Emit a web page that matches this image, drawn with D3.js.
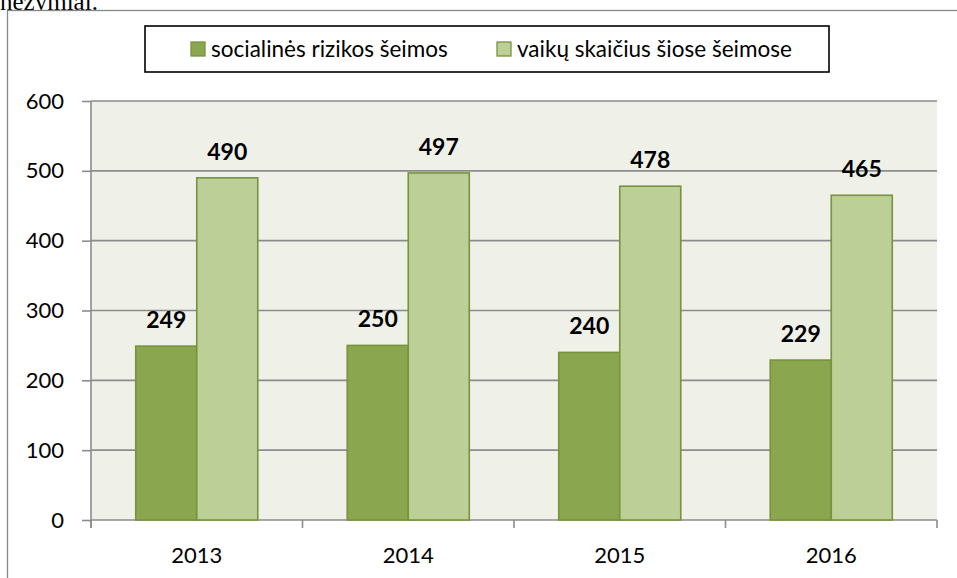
<!DOCTYPE html>
<html>
<head>
<meta charset="utf-8">
<script src="https://cdn.jsdelivr.net/npm/d3@7"></script>
<style>
body{margin:0;background:#fff;}
svg{display:block;}
</style>
</head>
<body>
<div id="vis1"></div>
<script>
// data
var years = ["2013","2014","2015","2016"];
var seriesNames = ["socialinės rizikos šeimos","vaikų skaičius šiose šeimose"];
var families = [249,250,240,229];
var children = [490,497,478,465];
var yTicks = [0,100,200,300,400,500,600];
var colors = ["#8AA64F","#BBCF97"];

var table = years.map(function(y,i){return {year:y, values:[families[i],children[i]]};});

var svg = d3.select("#vis1").append("svg").attr("width",957).attr("height",578);

// leftover line of the document above the chart
svg.append("text").text("nežymiai.").attr("x",0).attr("y",10)
    .attr("style","font-family:'Liberation Serif',serif;font-size:25px;fill:#000;");

// outer frame of the chart
svg.append("rect").attr("x",7.5).attr("y",10.5).attr("width",980).attr("height",600)
    .attr("style","fill:#fff;stroke:#878787;stroke-width:1.3px;");

// scales
var x0 = d3.scaleBand().domain(years).range([91,937]).padding(0);
var x1 = d3.scaleBand().domain([0,1]).range([0,x0.bandwidth()]).paddingInner(0).paddingOuter(0.733);
var y = d3.scaleLinear().domain([0,600]).range([520,101]);

// plot background
svg.append("rect").attr("x",x0.range()[0]).attr("y",y(600)).attr("width",x0.range()[1]-x0.range()[0]).attr("height",y(0)-y(600))
    .attr("style","fill:#EFF1E9;");

// gridlines
svg.selectAll("line.grid").data(yTicks.slice(1)).enter().append("line").attr("class","grid")
    .attr("x1",x0.range()[0]).attr("x2",x0.range()[1]).attr("y1",(d)=>y(d)).attr("y2",(d)=>y(d))
    .attr("style","stroke:#8C8C8C;stroke-width:1.6px;");

// y axis
var yAxis = svg.append("g").attr("transform","translate(91,0)")
    .call(d3.axisLeft(y).tickValues(yTicks).tickSize(9).tickPadding(18));
yAxis.select(".domain").attr("style","stroke:#8C8C8C;stroke-width:1.6px;").attr("d","M0,"+y(600)+"V"+(y(0)+8));
yAxis.selectAll(".tick line").attr("style","stroke:#8C8C8C;stroke-width:1.6px;");
yAxis.selectAll(".tick text").attr("style","font-family:Lato,sans-serif;font-size:22px;fill:#000;");

// x axis with ticks on category boundaries
var bounds = years.map((d)=>x0(d)).concat([x0.range()[1]]);
svg.append("line").attr("x1",x0.range()[0]).attr("x2",x0.range()[1]).attr("y1",y(0)).attr("y2",y(0))
    .attr("style","stroke:#8C8C8C;stroke-width:1.6px;");
svg.selectAll("line.xtick").data(bounds).enter().append("line").attr("class","xtick")
    .attr("x1",(d)=>d).attr("x2",(d)=>d).attr("y1",y(0)).attr("y2",y(0)+8)
    .attr("style","stroke:#8C8C8C;stroke-width:1.6px;");
svg.selectAll("text.year").data(years).enter().append("text").attr("class","year").text((d)=>d)
    .attr("x",(d)=>x0(d)+x0.bandwidth()/2).attr("y",563)
    .attr("style","text-anchor:middle;font-family:Lato,sans-serif;font-size:22px;fill:#000;");

// bars
var groups = svg.selectAll("g.year").data(table).enter().append("g").attr("class","year")
    .attr("transform",(d)=>"translate("+x0(d.year)+",0)");
groups.selectAll("rect").data((d)=>d.values).enter().append("rect")
    .attr("x",(d,i)=>x1(i)).attr("y",(d)=>y(d)).attr("width",x1.bandwidth()).attr("height",(d)=>y(0)-y(d))
    .attr("fill",(d,i)=>colors[i])
    .attr("style","stroke:#77933C;stroke-width:1.6px;");
// value labels
groups.selectAll("text").data((d)=>d.values).enter().append("text").text((d)=>d)
    .attr("x",(d,i)=>x1(i)+x1.bandwidth()/2).attr("y",(d)=>y(d)-18)
    .attr("style","text-anchor:middle;font-family:Lato,sans-serif;font-weight:bold;font-size:23px;fill:#000;");

// legend
svg.append("rect").attr("x",145).attr("y",26).attr("width",684).attr("height",46)
    .attr("style","fill:#fff;stroke:#000;stroke-width:1.6px;");
var legX = [191,497];
seriesNames.forEach(function(name,i){
    svg.append("rect").attr("x",legX[i]).attr("y",42).attr("width",14).attr("height",14)
        .attr("style","fill:"+colors[i]+";stroke:#77933C;stroke-width:1.3px;");
    svg.append("text").text(name).attr("x",legX[i]+20).attr("y",57)
        .attr("style","font-family:Lato,sans-serif;font-size:22.5px;fill:#000;");
});
</script>
</body>
</html>
